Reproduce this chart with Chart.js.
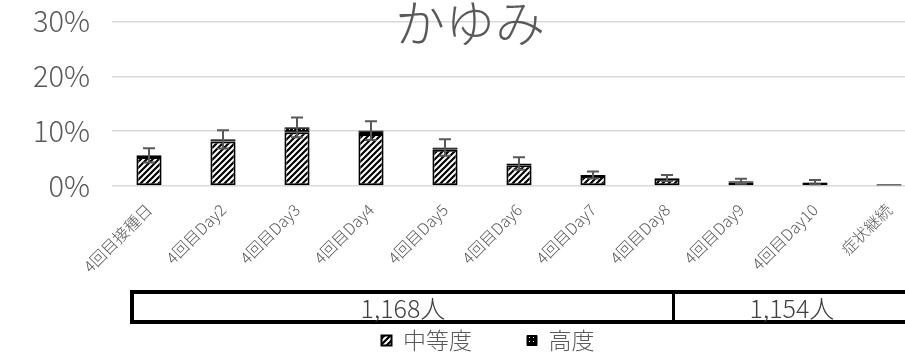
<!DOCTYPE html>
<html>
<head>
<meta charset="utf-8">
<script src="https://cdn.jsdelivr.net/npm/chart.js@4"></script>
<style>
  body { margin: 0; overflow: hidden; background: #fff; }
  #wrap { position: relative; width: 976px; height: 362px; }
  #title {
    position: absolute; left: 0; top: -6px; width: 940px; text-align: center;
    font: 300 50px "Noto Sans CJK JP", sans-serif; line-height: 52px; color: #595959;
  }
  #table {
    position: absolute; left: 130px; top: 290px; width: 810px; height: 26px;
    border: 4px solid #000; display: flex;
    font: 300 25px "Noto Sans CJK JP", sans-serif; color: #404040;
  }
  #table div { text-align: center; line-height: 26px; }
  #cell1 { width: 538px; border-right: 3px solid #000; }
  #cell2 { width: 234px; }
</style>
</head>
<body>
<div id="wrap">
  <canvas id="myChart" width="976" height="362"></canvas>
  <div id="title">かゆみ</div>
  <div id="table"><div id="cell1">1,168人</div><div id="cell2">1,154人</div></div>
</div>
<script>
var categories = ['4回目接種日', '4回目Day2', '4回目Day3', '4回目Day4', '4回目Day5', '4回目Day6', '4回目Day7', '4回目Day8', '4回目Day9', '4回目Day10', '症状継続'];
var moderate = [5.3, 8.1, 9.8, 9.5, 6.6, 3.8, 1.8, 1.3, 0.7, 0.6, 0.1];
var severe = [0.3, 0.4, 0.9, 0.6, 0.4, 0.3, 0.2, 0.15, 0.15, 0.1, 0.2];
var errors = [1.3, 1.65, 1.8, 1.7, 1.5, 1.15, 0.65, 0.55, 0.45, 0.4, 0];
var yTicks = [0, 10, 20, 30];

function hatchPattern() {
    var c = document.createElement('canvas');
    c.width = 6; c.height = 6;
    var g = c.getContext('2d');
    g.fillStyle = '#fff';
    g.fillRect(0, 0, 6, 6);
    g.strokeStyle = '#000';
    g.lineWidth = 2.2;
    g.beginPath();
    g.moveTo(-1, 7); g.lineTo(7, -1);
    g.moveTo(-4, 4); g.lineTo(4, -4);
    g.moveTo(2, 10); g.lineTo(10, 2);
    g.stroke();
    return g.createPattern(c, 'repeat');
}

function dotPattern() {
    var c = document.createElement('canvas');
    c.width = 4; c.height = 4;
    var g = c.getContext('2d');
    g.fillStyle = '#000';
    g.fillRect(0, 0, 4, 4);
    g.fillStyle = '#fff';
    g.fillRect(1, 1, 1, 1);
    return g.createPattern(c, 'repeat');
}

// draw error bars around the top of each stacked bar
var errorBars = {
    id: 'errorBars',
    afterDatasetsDraw: function (chart) {
        var ctx = chart.ctx;
        var x = chart.scales.x, y = chart.scales.y;
        ctx.save();
        ctx.strokeStyle = '#595959';
        ctx.lineWidth = 2;
        for (var i = 0; i < categories.length; i++) {
            if (!errors[i]) continue;
            var total = moderate[i] + severe[i];
            var cx = x.getPixelForValue(i);
            var top = y.getPixelForValue(total + errors[i]);
            var bot = y.getPixelForValue(total - errors[i]);
            ctx.beginPath();
            ctx.moveTo(cx, top); ctx.lineTo(cx, bot);
            ctx.moveTo(cx - 6, top); ctx.lineTo(cx + 6, top);
            ctx.moveTo(cx - 6, bot); ctx.lineTo(cx + 6, bot);
            ctx.stroke();
        }
        ctx.restore();
    }
};

var font = '"Noto Sans CJK JP", sans-serif';
var ctx = document.getElementById('myChart').getContext('2d');
var chart = new Chart(ctx, {
    type: 'bar',
    data: {
        labels: categories,
        datasets: [{
            label: '中等度',
            data: moderate,
            backgroundColor: hatchPattern(),
            borderColor: '#000',
            borderWidth: 2,
            borderSkipped: false,
            barPercentage: 0.34,
            categoryPercentage: 1
        }, {
            label: '高度',
            data: severe,
            backgroundColor: dotPattern(),
            borderColor: '#000',
            borderWidth: 1,
            borderSkipped: false,
            barPercentage: 0.34,
            categoryPercentage: 1
        }]
    },
    options: {
        responsive: false,
        animation: false,
        layout: { padding: 0 },
        plugins: {
            title: { display: false },
            tooltip: { enabled: false },
            legend: {
                position: 'bottom',
                labels: {
                    boxWidth: 10, boxHeight: 10, padding: 55,
                    color: '#595959',
                    font: { family: font, size: 23, weight: 300 }
                }
            }
        },
        scales: {
            x: {
                stacked: true,
                grid: { display: false },
                border: { display: false },
                afterFit: function (scale) { scale.height = 88; },
                ticks: {
                    autoSkip: false, maxRotation: 45, minRotation: 45, padding: 6,
                    color: '#595959',
                    font: { family: font, size: 16, weight: 300 }
                }
            },
            y: {
                stacked: true,
                min: 0, max: 30,
                afterFit: function (scale) { scale.width = 112; },
                afterBuildTicks: function (scale) {
                    scale.ticks = yTicks.map(function (v) { return { value: v }; });
                },
                grid: { color: '#d9d9d9', lineWidth: 1.5, drawTicks: true, tickLength: 18, tickColor: 'rgba(0,0,0,0)' },
                border: { display: false },
                ticks: {
                    padding: 4,
                    color: '#595959',
                    font: { family: font, size: 29, weight: 300 },
                    callback: function (v) { return v + '%'; }
                }
            },
            // empty right-hand spacer so the plot runs past the visible edge
            yRight: {
                position: 'right',
                grid: { display: false },
                border: { display: false },
                ticks: { display: false },
                afterFit: function (scale) { scale.width = 50; }
            }
        }
    },
    plugins: [errorBars]
});
</script>
</body>
</html>
